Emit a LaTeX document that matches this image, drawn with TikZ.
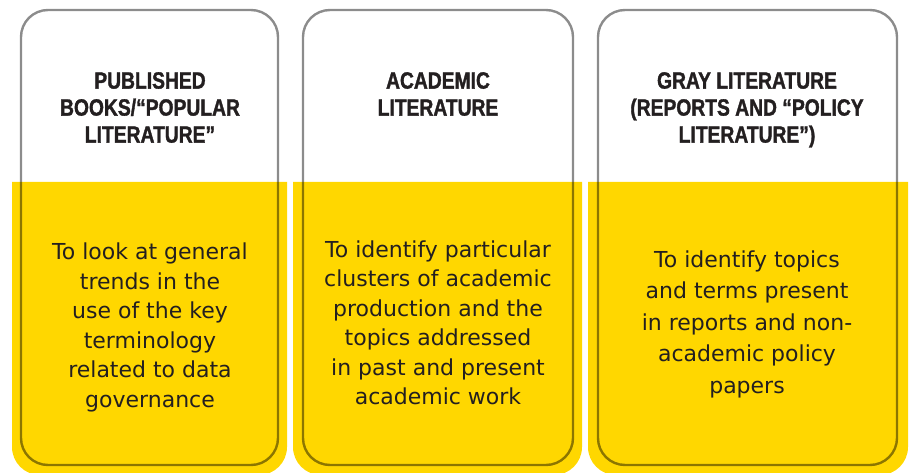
\documentclass[tikz,border=0pt]{standalone}
\usepackage{fontspec}
\setmainfont{DejaVu Sans}
\newfontfamily\headfont[FakeStretch=0.82,BoldFeatures={FakeBold=1.4}]{Liberation Sans}
\definecolor{panelyellow}{HTML}{FFD700}
\definecolor{inkgray}{HTML}{231F20}
\tikzset{
  panelfill/.style={fill=panelyellow},
  panelframe/.style={draw=black,draw opacity=0.45,line width=2.4pt,rounded corners=27pt},
  headtext/.style={anchor=north,align=center,inner sep=0pt,text=inkgray,
    font=\headfont\bfseries\fontsize{23.5}{27}\selectfont},
  bodytext/.style={align=center,inner sep=0pt,text=inkgray,
    font=\fontsize{22}{29.5}\selectfont}
}
\begin{document}
\begin{tikzpicture}[x=1pt,y=1pt]
  \useasboundingbox (0,0) rectangle (910,472);
  \clip (0,0) rectangle (910,472);
  % yellow lower halves
  \fill[panelfill] (12,290) [rounded corners=28pt] -- (12,-3) -- (287,-3) [sharp corners] -- (287,290) -- cycle;
  \fill[panelfill] (293,290) [rounded corners=28pt] -- (293,-3) -- (582,-3) [sharp corners] -- (582,290) -- cycle;
  \fill[panelfill] (588,290) [rounded corners=28pt] -- (588,-3) -- (908,-3) [sharp corners] -- (908,290) -- cycle;
  % frames
  \draw[panelframe] (21,7) rectangle (278,462);
  \draw[panelframe] (303,7) rectangle (573,462);
  \draw[panelframe] (598,7) rectangle (897,462);
  % titles
  \node[headtext] (books) at (150,400) {PUBLISHED\\BOOKS/“POPULAR\\LITERATURE”};
  \node[headtext] (academic) at (438,400) {ACADEMIC\\LITERATURE};
  \node[headtext] (gray) at (747,400) {GRAY LITERATURE\\(REPORTS AND “POLICY\\LITERATURE”)};
  % purposes
  \node[bodytext] (booksaim) at (150,144.5) {To look at general\\trends in the\\use of the key\\terminology\\related to data\\governance};
  \node[bodytext] (academicaim) at (438,149) {To identify particular\\clusters of academic\\production and the\\topics addressed\\in past and present\\academic work};
  \node[bodytext,font=\fontsize{22}{31.5}\selectfont] (grayaim) at (747,148) {To identify topics\\and terms present\\in reports and non-\\academic policy\\papers};
\end{tikzpicture}
\end{document}
